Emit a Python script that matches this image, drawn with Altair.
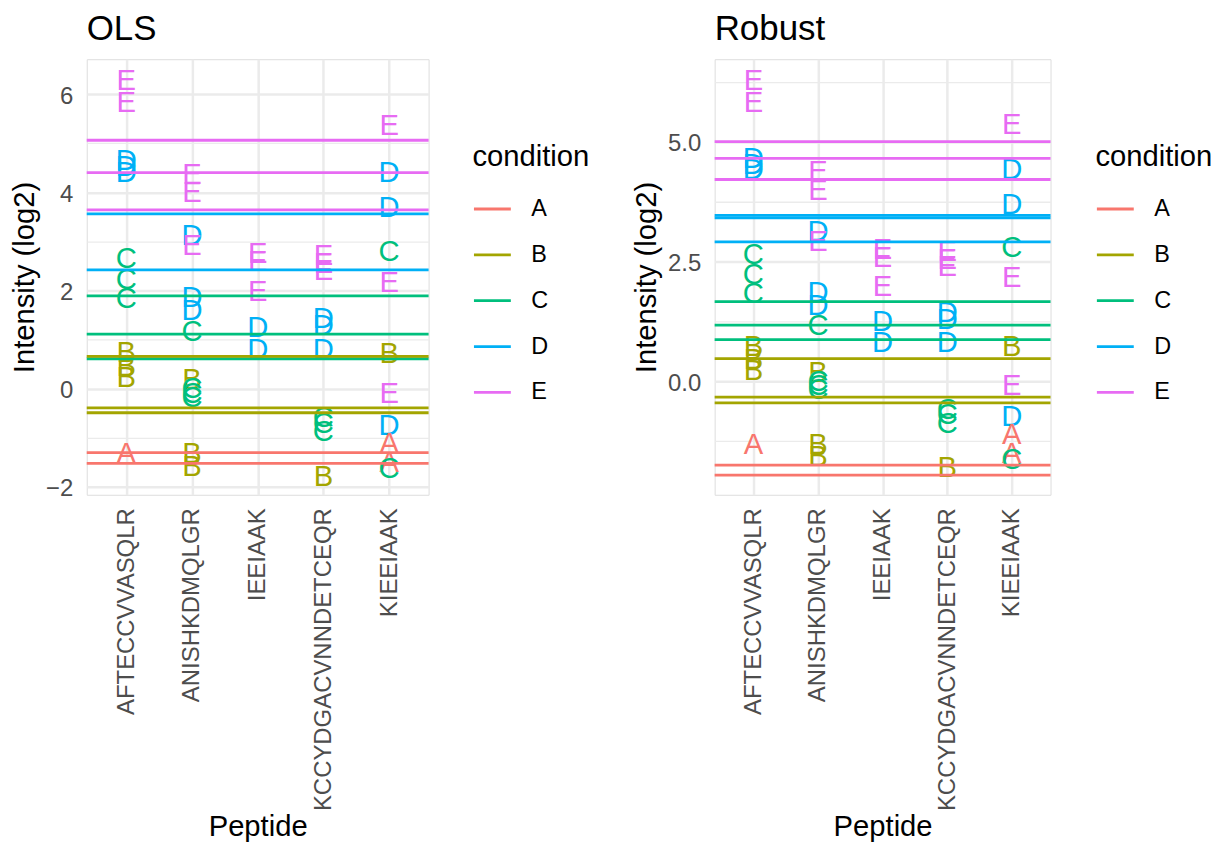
import altair as alt
import pandas as pd

peptides = ["AFTECCVVASQLR", "ANISHKDMQLGR", "IEEIAAK", "KCCYDGACVNNDETCEQR", "KIEEIAAK"]
conditions = ["A", "B", "C", "D", "E"]
colors = ["#F8766D", "#A3A500", "#00BF7D", "#00B0F6", "#E76BF3"]

# observed intensities per peptide (condition label, log2 value)
pep1_cond = ["E", "E", "D", "D", "D", "C", "C", "C", "B", "B", "B", "A"]
pep1_val = [6.30, 5.85, 4.68, 4.55, 4.44, 2.68, 2.26, 1.86, 0.76, 0.48, 0.26, -1.28]

pep2_cond = ["E", "E", "D", "E", "D", "D", "C", "B", "C", "C", "C", "B", "B"]
pep2_val = [4.40, 4.02, 3.16, 2.94, 1.88, 1.62, 1.20, 0.22, 0.03, -0.06, -0.15, -1.28, -1.55]

pep3_cond = ["E", "E", "E", "D", "D"]
pep3_val = [2.78, 2.62, 2.01, 1.28, 0.83]

pep4_cond = ["E", "E", "E", "D", "D", "D", "C", "C", "C", "B"]
pep4_val = [2.74, 2.58, 2.43, 1.46, 1.32, 0.83, -0.55, -0.67, -0.85, -1.76]

pep5_cond = ["E", "D", "D", "C", "E", "B", "E", "D", "A", "A", "C"]
pep5_val = [5.38, 4.44, 3.71, 2.82, 2.19, 0.75, -0.06, -0.71, -1.08, -1.48, -1.60]

# fitted horizontal lines
ols_cond = ["E", "E", "E", "D", "D", "C", "C", "C", "B", "B", "B", "A", "A"]
ols_val = [5.06, 4.40, 3.64, 3.56, 2.42, 1.89, 1.11, 0.61, 0.66, -0.39, -0.49, -1.30, -1.52]

rob_cond = ["E", "E", "E", "D", "D", "D", "C", "C", "C", "B", "B", "B", "A", "A"]
rob_val = [5.00, 4.65, 4.21, 3.46, 3.41, 2.91, 1.66, 1.17, 0.87, 0.47, -0.33, -0.45, -1.75, -1.96]

rows = []
for pep, cs, vs in zip(peptides,
                       [pep1_cond, pep2_cond, pep3_cond, pep4_cond, pep5_cond],
                       [pep1_val, pep2_val, pep3_val, pep4_val, pep5_val]):
    for c, v in zip(cs, vs):
        rows.append({"peptide": pep, "condition": c, "value": v})
obs = pd.DataFrame(rows)

ols_df = pd.DataFrame({"condition": ols_cond, "value": ols_val})
rob_df = pd.DataFrame({"condition": rob_cond, "value": rob_val})

FONT = "Liberation Sans"


def panel(title, lines_df, domain, tick_values, label_test, fmt, width, legend_x):
    color_scale = alt.Scale(domain=conditions, range=colors)
    x = alt.X("peptide:N", sort=peptides,
              scale=alt.Scale(type="point", padding=0.6),
              axis=alt.Axis(labelAngle=270, labelFontSize=24, labelColor="#4D4D4D",
                            labelFont=FONT, labelPadding=13, labelLimit=400, grid=True,
                            gridColor="#EBEBEB", gridWidth=2.5, domain=False, ticks=False,
                            titleFontSize=29.3, titleFont=FONT, titleFontWeight="normal",
                            titleColor="black", titleBaseline="top", titleY=319),
              title="Peptide")
    y = alt.Y("value:Q",
              scale=alt.Scale(domain=domain, nice=False, zero=False),
              axis=alt.Axis(values=tick_values, format=fmt,
                            labelExpr=f"({label_test}) ? datum.label : ''",
                            labelFontSize=24, labelColor="#4D4D4D", labelFont=FONT,
                            labelPadding=14, labelOffset=2, grid=True, gridColor="#EBEBEB",
                            gridWidth={"condition": {"test": label_test, "value": 2.5}, "value": 1.3},
                            domain=False, ticks=False,
                            titleFontSize=29.3, titleFont=FONT, titleFontWeight="normal",
                            titleColor="black", titlePadding=6),
              title="Intensity (log2)")
    text = alt.Chart(obs).mark_text(fontSize=29.3, font=FONT, baseline="middle",
                                    align="center", dy=2).encode(
        x=x, y=y, text="condition:N",
        color=alt.Color("condition:N", scale=color_scale, legend=None))
    rules = alt.Chart(lines_df).mark_rule(strokeWidth=2.8).encode(
        y=alt.Y("value:Q"),
        color=alt.Color("condition:N", scale=color_scale,
                        legend=alt.Legend(title="condition", orient="none",
                                          legendX=legend_x, legendY=84,
                                          symbolType="stroke", symbolSize=1369,
                                          symbolStrokeWidth=2.8, labelOffset=19,
                                          rowPadding=14, titlePadding=17, padding=0,
                                          titleFontSize=29.3, titleFont=FONT,
                                          titleFontWeight="normal", titleColor="black",
                                          labelFontSize=23.5, labelFont=FONT,
                                          labelColor="black")))
    return alt.layer(text, rules).resolve_scale(color="independent").properties(
        width=width, height=437,
        title=alt.TitleParams(text=title, anchor="start", frame="group", fontSize=35,
                              font=FONT, fontWeight="normal", color="black",
                              baseline="bottom", offset=-23))


p1 = panel("OLS", ols_df, [-2.16, 6.71], [-2, -1, 0, 1, 2, 3, 4, 5, 6],
           "datum.value % 2 == 0", "d", 343, 387)
p2 = panel("Robust", rob_df, [-2.37, 6.72], [-1.25, 0, 1.25, 2.5, 3.75, 5, 6.25],
           "datum.value % 2.5 == 0", ".1f", 337, 382)

chart = alt.hconcat(p1, p2, spacing=41).resolve_scale(color="independent").resolve_legend(
    color="independent").properties(
    padding={"left": 2, "top": 2, "right": 0, "bottom": 0}
).configure_view(stroke=None).configure(font=FONT)

chart.save("out.html", embed_options={"renderer": "svg", "actions": False})
